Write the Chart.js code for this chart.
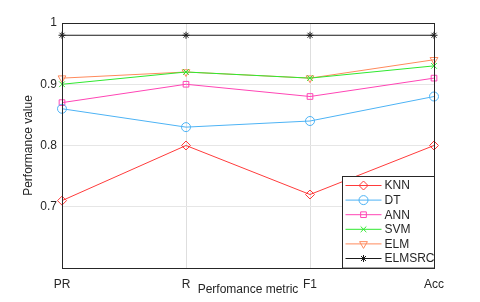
<!DOCTYPE html>
<html>
<head>
<meta charset="utf-8">
<script src="https://cdn.jsdelivr.net/npm/chart.js@4"></script>
<style>
  body { margin: 0; background: #fff; }
  #wrap { width: 480px; height: 302px; }
</style>
</head>
<body>
<div id="wrap"><canvas id="perfChart" width="480" height="302"></canvas></div>
<script>
const metrics = ['PR', 'R', 'F1', 'Acc'];
const knn = [0.71, 0.80, 0.72, 0.80];
const dt = [0.86, 0.83, 0.84, 0.88];
const ann = [0.87, 0.90, 0.88, 0.91];
const svm = [0.90, 0.92, 0.91, 0.93];
const elm = [0.91, 0.92, 0.91, 0.94];
const elmsrc = [0.98, 0.98, 0.98, 0.98];
const yTicks = [0.6, 0.7, 0.8, 0.9, 1.0];

const FONT = 'Arial, "Liberation Sans", Helvetica, sans-serif';

function series(label, data, color, style, rotation, radius) {
    return {
        label: label,
        data: data,
        borderColor: color,
        backgroundColor: color,
        borderWidth: 1,
        pointStyle: style,
        pointRotation: rotation || 0,
        pointRadius: radius || 4.5,
        pointBorderWidth: 1,
        pointBackgroundColor: 'rgba(0,0,0,0)',
        pointBorderColor: color,
        tension: 0
    };
}

// box around the axes, like matlab
const boxPlugin = {
    id: 'box',
    afterDatasetsDraw(chart) {
        const a = chart.chartArea;
        const c = chart.ctx;
        c.save();
        c.strokeStyle = '#262626';
        c.lineWidth = 1;
        c.strokeRect(Math.round(a.left) + 0.5, Math.round(a.top) + 0.5,
            Math.round(a.right - a.left), Math.round(a.bottom - a.top));
        c.restore();
    }
};

// legend sitting in the lower right corner of the axes
const insideLegend = {
    id: 'insideLegend',
    afterDraw(chart) {
        const a = chart.chartArea;
        const c = chart.ctx;
        const sets = chart.data.datasets;
        const w = 92, rowH = 14.6;
        const h = sets.length * rowH + 4;
        const x0 = Math.round(a.right - w) + 0.5;
        const y0 = Math.round(a.bottom - h) + 0.5;
        c.save();
        c.fillStyle = '#fff';
        c.fillRect(x0, y0, w, h);
        c.strokeStyle = '#262626';
        c.lineWidth = 1;
        c.strokeRect(x0, y0, w, h);
        c.font = '12px ' + FONT;
        c.textBaseline = 'middle';
        sets.forEach((ds, i) => {
            const y = y0 + 9 + i * rowH;
            c.strokeStyle = ds.borderColor;
            c.lineWidth = 1;
            c.beginPath();
            c.moveTo(x0 + 3, y);
            c.lineTo(x0 + 39, y);
            c.stroke();
            c.fillStyle = 'rgba(0,0,0,0)';
            Chart.helpers.drawPoint(c, {
                pointStyle: ds.pointStyle,
                rotation: ds.pointRotation,
                radius: ds.pointRadius,
                borderWidth: 1
            }, x0 + 21, y);
            c.fillStyle = '#262626';
            c.fillText(ds.label, x0 + 42, y + 0.5);
        });
        c.restore();
    }
};

const ctx = document.getElementById('perfChart').getContext('2d');
const perfChart = new Chart(ctx, {
    type: 'line',
    data: {
        labels: metrics,
        datasets: [
            series('KNN', knn, '#ff3b3b', 'rectRot'),
            series('DT', dt, '#4db3f5', 'circle'),
            series('ANN', ann, '#ff45b5', 'rect', 0, 4),
            series('SVM', svm, '#2fe82f', 'crossRot', 0, 4),
            series('ELM', elm, '#ff8a5c', 'triangle', 180),
            series('ELMSRC', elmsrc, '#1a1a1a', 'star', 0, 3.5)
        ]
    },
    options: {
        responsive: false,
        animation: false,
        layout: { padding: { left: 0, right: 46, top: 23, bottom: 0 } },
        plugins: {
            legend: { display: false },
            tooltip: { enabled: false }
        },
        scales: {
            x: {
                offset: false,
                grid: { color: '#dedede', drawTicks: false },
                border: { display: false },
                ticks: {
                    padding: 9,
                    color: '#262626',
                    font: { family: FONT, size: 12 },
                    maxRotation: 0
                },
                title: {
                    display: true,
                    text: 'Perfomance metric',
                    color: '#262626',
                    font: { family: FONT, size: 12 },
                    padding: { top: 0, bottom: 5 }
                },
                afterFit(scale) { scale.height = 34; }
            },
            y: {
                min: 0.6,
                max: 1.0,
                afterBuildTicks(scale) {
                    scale.ticks = yTicks.map(v => ({ value: v }));
                },
                grid: { color: '#e6e6e6', drawTicks: false },
                border: { display: false },
                ticks: {
                    padding: 5,
                    color: '#262626',
                    font: { family: FONT, size: 12 },
                    callback: v => (Math.abs(v - 0.6) < 1e-6 ? '' : String(Math.round(v * 10) / 10))
                },
                title: {
                    display: true,
                    text: 'Performance value',
                    color: '#262626',
                    font: { family: FONT, size: 12 },
                    padding: { top: 21, bottom: 0 }
                },
                afterFit(scale) { scale.width = 62; }
            }
        }
    },
    plugins: [boxPlugin, insideLegend]
});
</script>
</body>
</html>
